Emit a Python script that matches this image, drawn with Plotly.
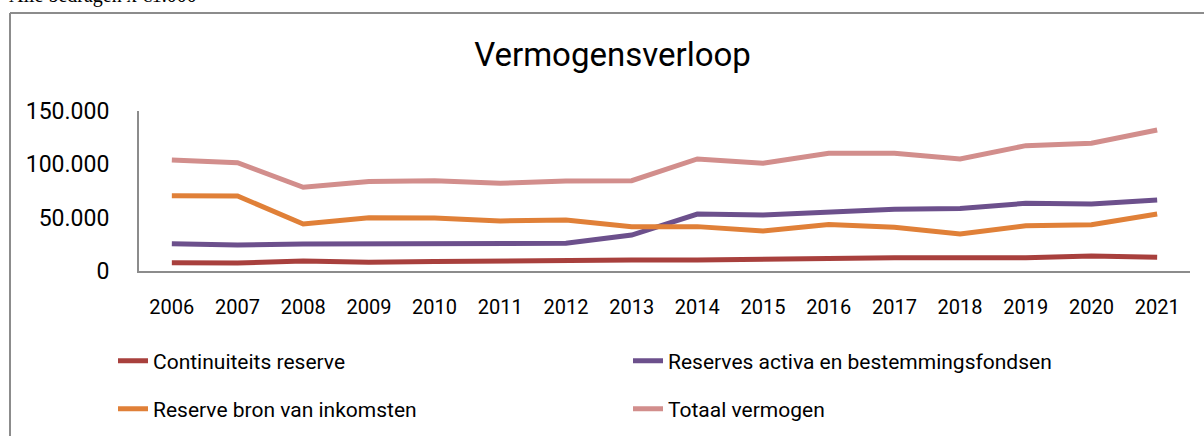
import plotly.graph_objects as go

years = [str(y) for y in range(2006, 2022)]
continuiteits = [7.8, 7.5, 9.4, 8.1, 8.8, 9.4, 10.3, 10.3, 10.3, 11.2, 11.9, 12.5, 12.5, 12.5, 14.0, 12.8]
reserves_activa = [25.6, 24.4, 25.3, 25.5, 26.0, 26.0, 26.0, 33.7, 53.4, 52.5, 55.6, 57.8, 58.7, 63.4, 62.8, 66.6]
reserve_bron = [70.6, 70.3, 44.0, 50.0, 49.7, 46.9, 47.8, 41.6, 41.6, 37.5, 43.7, 41.0, 34.7, 42.5, 43.4, 53.4]
totaal = [104.0, 101.5, 78.5, 83.8, 84.7, 82.2, 84.4, 84.7, 105.0, 101.0, 110.3, 110.3, 105.0, 117.5, 119.7, 132.2]
scale = 1000

series = [
    ("Continuiteits reserve", continuiteits, "#A8403D", "legend"),
    ("Reserves activa en bestemmingsfondsen", reserves_activa, "#6C508C", "legend"),
    ("Reserve bron van inkomsten", reserve_bron, "#E08038", "legend2"),
    ("Totaal vermogen", totaal, "#D28E8C", "legend2"),
]

FONT = "Roboto"
W, H = 1204, 436
L, R, T, B = 139, 1190, 111, 271

def px_x(p):
    return (p - L) / (R - L)

def px_y(p):
    return (B - p) / (B - T)

fig = go.Figure()
for name, vals, color, lg in series:
    fig.add_trace(go.Scatter(
        x=years, y=[v * scale for v in vals], name=name, mode="lines",
        line=dict(color=color, width=5), legend=lg,
    ))

legend_common = dict(
    orientation="h", xref="paper", yref="paper", xanchor="left", yanchor="middle",
    entrywidth=470, entrywidthmode="pixels", font=dict(family=FONT, size=21, color="#000"),
    bgcolor="rgba(0,0,0,0)", borderwidth=0, itemwidth=30, tracegroupgap=0,
)

fig.update_layout(
    width=W, height=H,
    margin=dict(l=L, r=W - R, t=T, b=H - B, autoexpand=False),
    paper_bgcolor="white", plot_bgcolor="white",
    title=dict(text="Vermogensverloop", x=612.5 / W, xanchor="center",
               y=1 - 54 / H, yanchor="middle", yref="container",
               font=dict(family=FONT, size=33, color="#000")),
    xaxis=dict(type="category", range=[-0.5, 15.5], showline=True, linecolor="#8C8C8C",
               linewidth=2, showgrid=False, ticks="", ticklabelstandoff=17,
               automargin=False, tickfont=dict(family=FONT, size=20, color="#000")),
    yaxis=dict(range=[0, 150000], tickvals=[0, 50000, 100000, 150000],
               ticktext=["0", "50.000", "100.000", "150.000"], showline=True,
               linecolor="#8C8C8C", linewidth=2, showgrid=False, zeroline=False, ticks="",
               automargin=False, ticklabelstandoff=23,
               tickfont=dict(family=FONT, size=23, color="#000")),
    legend=dict(x=px_x(113), y=px_y(361), **legend_common),
    legend2=dict(x=px_x(113), y=px_y(409), **legend_common),
    showlegend=True,
)

fig.add_shape(type="line", xref="paper", yref="paper", x0=px_x(10), x1=px_x(10),
              y0=px_y(13), y1=px_y(460), line=dict(color="#8C8C8C", width=2))
fig.add_shape(type="line", xref="paper", yref="paper", x0=px_x(10), x1=px_x(1230),
              y0=px_y(13), y1=px_y(13), line=dict(color="#8C8C8C", width=2))

fig.add_annotation(text="Alle bedragen x €1.000", xref="paper", yref="paper",
                   x=px_x(7), y=px_y(9), xanchor="left", yanchor="bottom", showarrow=False,
                   font=dict(family="Liberation Serif", size=20, color="#000"))

fig.write_html("out.html", config={"displayModeBar": False},
               post_script="document.body.style.margin='0';")
